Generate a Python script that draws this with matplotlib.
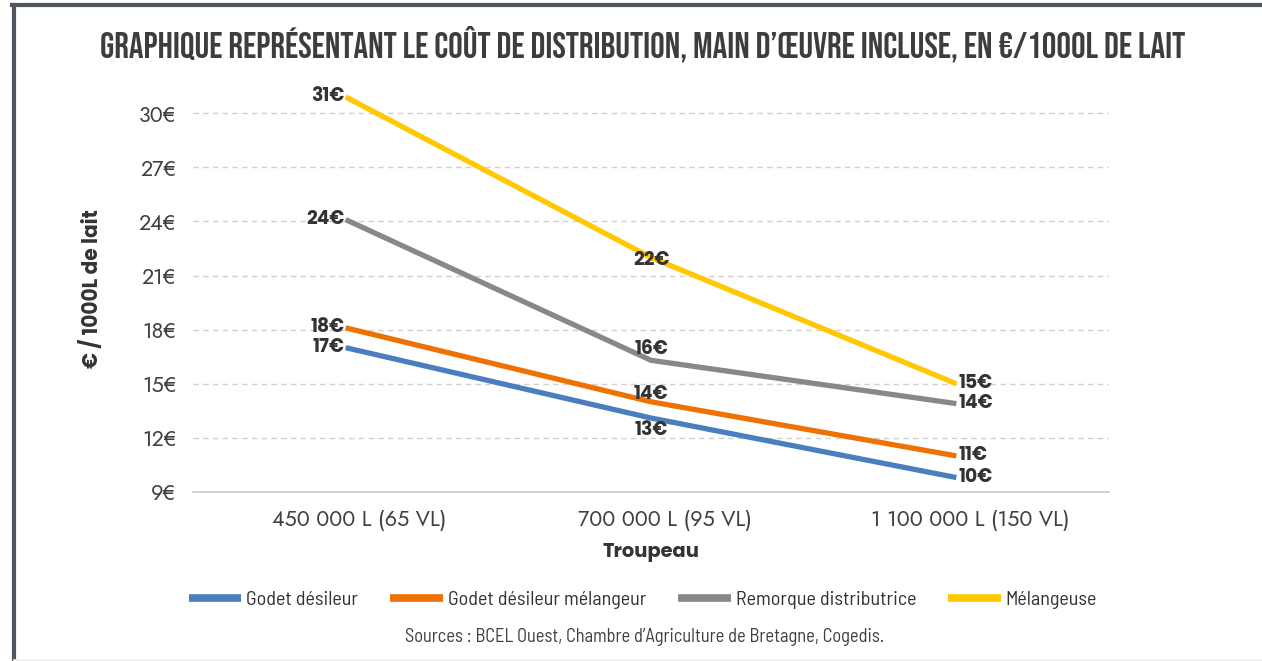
import matplotlib
matplotlib.use("Agg")
import matplotlib.pyplot as plt
from matplotlib.lines import Line2D
import matplotlib.transforms as mtransforms
import logging
logging.getLogger("matplotlib.font_manager").setLevel(logging.ERROR)

categories = ["450 000 L (65 VL)", "700 000 L (95 VL)", "1 100 000 L (150 VL)"]
series_names = ["Godet désileur", "Godet désileur mélangeur", "Remorque distributrice", "Mélangeuse"]
godet = [17.0, 13.1, 9.8]
godet_mel = [18.1, 14.0, 11.0]
remorque = [24.1, 16.3, 13.9]
melangeuse = [30.9, 22.0, 15.0]
label_values = [[17, 13, 10], [18, 14, 11], [24, 16, 14], [31, 22, 15]]
yticks = [9, 12, 15, 18, 21, 24, 27, 30]

colors = ["#4a7ebf", "#ee7203", "#888888", "#ffc800"]
mid_offsets = [-12, 7, 11, -3]  # pixel vertical offsets for middle labels

TITLE_FONT = ["Bebas Neue", "Oswald", "DejaVu Sans"]
GEO_FONT = ["Jost", "Questrial", "Lato", "DejaVu Sans"]
BOLD_FONT = ["Poppins", "DejaVu Sans"]
NARROW_FONT = ["Barlow Semi Condensed", "Roboto Condensed", "DejaVu Sans"]

fig = plt.figure(figsize=(12.62, 6.61), dpi=100)
ax = fig.add_axes([0.1529, 0.2557, 0.7259, 0.614])

data = [godet, godet_mel, remorque, melangeuse]
x = list(range(len(categories)))
for vals, c in zip(data, colors):
    ax.plot(x, vals, color=c, lw=3.8, solid_capstyle="butt", zorder=3)

lab_font = dict(family=BOLD_FONT, fontweight="bold", fontsize=13.5, color="#333333")
for vals, labs, off in zip(data, label_values, mid_offsets):
    ax.annotate(f"{labs[0]}€", (x[0], vals[0]), xytext=(-1, 0), textcoords="offset pixels",
                ha="right", va="center", zorder=4, **lab_font)
    ax.annotate(f"{labs[1]}€", (x[1], vals[1]), xytext=(0, off), textcoords="offset pixels",
                ha="center", va="center", zorder=4, **lab_font)
    ax.annotate(f"{labs[2]}€", (x[2], vals[2]), xytext=(2, 0), textcoords="offset pixels",
                ha="left", va="center", zorder=4, **lab_font)

ax.set_xlim(-0.5, 2.5)
ax.set_ylim(9, 31.5)
ax.set_yticks(yticks)
ax.set_yticklabels([f"{v}€" for v in yticks])
ax.set_xticks(x)
ax.set_xticklabels(categories)
ax.tick_params(axis="both", length=0, labelsize=15.5, labelcolor="#404040")
ax.tick_params(axis="y", pad=12)
ax.tick_params(axis="x", pad=12)
for lbl in ax.get_xticklabels() + ax.get_yticklabels():
    lbl.set_family(GEO_FONT)
shift = mtransforms.ScaledTranslation(14 / 100, 0, fig.dpi_scale_trans)
for tick in ax.xaxis.get_major_ticks():
    tick.label1.set_transform(tick.label1.get_transform() + shift)

ax.grid(axis="y", color="#d0d0d0", linestyle=(0, (4, 3)), lw=1)
ax.set_axisbelow(True)
for s in ["top", "right", "left"]:
    ax.spines[s].set_visible(False)
ax.spines["bottom"].set_color("#d0d0d0")
ax.spines["bottom"].set_linewidth(1.3)
ax.spines["bottom"].set_zorder(2)

ax.set_xlabel("Troupeau", family=BOLD_FONT, fontweight="bold", fontsize=14, color="#333333", labelpad=9)
ax.set_ylabel("€ / 1000L de lait", family=BOLD_FONT, fontweight="bold", fontsize=14.5, color="#333333", labelpad=25)

fig.text(0.5095, 0.934, "GRAPHIQUE REPRÉSENTANT LE COÛT DE DISTRIBUTION, MAIN D’ŒUVRE INCLUSE, EN €/1000L DE LAIT",
         ha="center", va="center", family=TITLE_FONT, fontweight="bold", fontsize=26.2, color="#3d3d3d")

handles = [Line2D([0], [0], color=c, lw=5.5, solid_capstyle="butt") for c in colors]
fig.legend(handles, series_names, loc="center", bbox_to_anchor=(0.5095, 0.092), ncol=4, frameon=False,
           prop={"family": NARROW_FONT, "size": 14.5}, labelcolor="#333333",
           handlelength=2.6, handletextpad=0.25, columnspacing=1.6)

fig.text(0.511, 0.036, "Sources : BCEL Ouest, Chambre d’Agriculture de Bretagne, Cogedis.",
         ha="center", va="center", family=NARROW_FONT, fontsize=13.3, color="#404040")

# frame
fig.add_artist(Line2D([0.0111, 0.0111], [0.0, 0.993], transform=fig.transFigure, color="#4f565e", lw=3))
fig.add_artist(Line2D([0.0095, 1.0], [0.9925, 0.9925], transform=fig.transFigure, color="#4f565e", lw=3))
fig.add_artist(Line2D([0.0111, 1.0], [0.002, 0.002], transform=fig.transFigure, color="#eeeeee", lw=2))

fig.savefig("out.png", dpi=100, facecolor="white")
